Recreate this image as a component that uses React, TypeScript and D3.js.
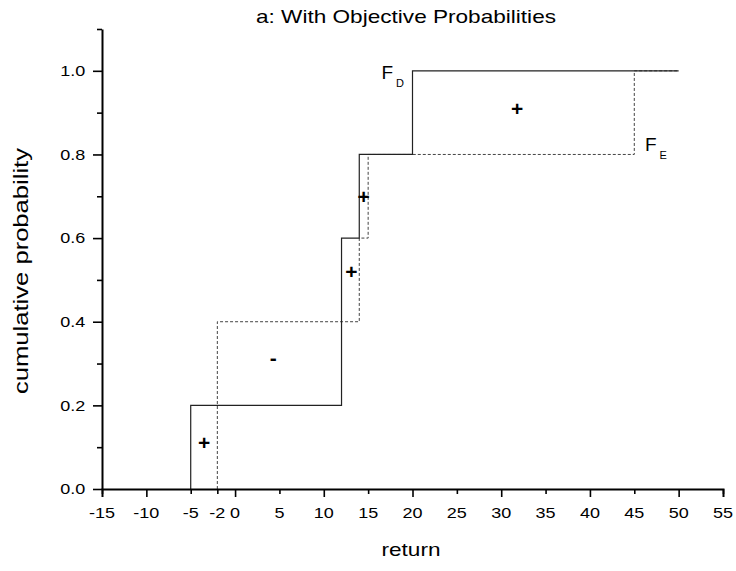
import React, { useEffect, useRef } from "react";
import * as d3 from "d3";

// step points of the two cumulative distributions
const returnsD = [-5, -5, 12, 14, 20, 50];
const cumProbD = [0, 0.2, 0.6, 0.8, 1.0, 1.0];
const returnsE = [-2, -2, 14, 15, 45, 50];
const cumProbE = [0, 0.4, 0.6, 0.8, 1.0, 1.0];

// axis ticks
const xMajorTicks = [-10, 0, 10, 20, 30, 40, 50];
const xMinorTicks = [-15, -5, -2, 5, 15, 25, 35, 45, 55];
const xTickLabels = [-15, -10, -5, -2, 0, 5, 10, 15, 20, 25, 30, 35, 40, 45, 50, 55];
const yMajorTicks = [0, 0.2, 0.4, 0.6, 0.8, 1.0];
const yMinorTicks = [0.1, 0.3, 0.5, 0.7, 0.9, 1.1];

// +/- annotations between the curves
const signX = [-3.5, 4.3, 13.1, 14.5, 31.8];
const signY = [0.11, 0.315, 0.52, 0.7, 0.91];
const signText = ["+", "-", "+", "+", "+"];

const App = () => {
  const svgRef = useRef<SVGSVGElement>(null);

  useEffect(() => {
    const width = 736;
    const height = 571;
    const marginLeft = 102;
    const marginRight = 13;
    const marginTop = 29;
    const marginBottom = 82;
    const font = "'Liberation Sans', Arial, sans-serif";

    const x = d3
      .scaleLinear()
      .domain([-15, 55])
      .range([marginLeft, width - marginRight]);
    const y = d3
      .scaleLinear()
      .domain([0, 1.1])
      .range([height - marginBottom, marginTop]);

    const svg = d3
      .select(svgRef.current)
      .attr("width", width)
      .attr("height", height)
      .attr("viewBox", [0, 0, width, height].join(" "))
      .style("position", "absolute")
      .style("left", "0px")
      .style("top", "0px")
      .style("background", "#fff");

    svg.selectAll("*").remove();

    const line = d3
      .line<[number, number]>()
      .x((d) => x(d[0]))
      .y((d) => y(d[1]))
      .curve(d3.curveStepAfter);

    // F_E dashed
    svg
      .append("path")
      .datum(returnsE.map((r, i) => [r, cumProbE[i]] as [number, number]))
      .attr("d", line)
      .attr("fill", "none")
      .attr("stroke", "#444")
      .attr("stroke-width", 1)
      .attr("stroke-dasharray", "3,2");

    // F_D solid
    svg
      .append("path")
      .datum(returnsD.map((r, i) => [r, cumProbD[i]] as [number, number]))
      .attr("d", line)
      .attr("fill", "none")
      .attr("stroke", "#222")
      .attr("stroke-width", 1.2);

    // x axis
    const gx = svg
      .append("g")
      .attr("transform", `translate(0,${y(0)})`)
      .style("font-family", font);
    gx.call(
      d3.axisBottom(x).tickValues(xMajorTicks).tickSize(8).tickFormat(() => "")
    );
    gx.append("g").call(
      d3.axisBottom(x).tickValues(xMinorTicks).tickSize(5).tickFormat(() => "")
    );
    gx.selectAll("g g .domain").remove();
    gx.selectAll(".domain").attr("stroke-width", 2).attr("stroke", "#000");
    gx.selectAll(".tick line").attr("stroke-width", 1.6).attr("stroke", "#000");
    gx.selectAll("text.xlab")
      .data(xTickLabels)
      .join("text")
      .attr("class", "xlab")
      .attr("transform", (d) => `translate(${x(d)},29) scale(1.2,1)`)
      .attr("text-anchor", "middle")
      .attr("font-size", 15)
      .attr("fill", "#000")
      .text((d) => String(d));

    // y axis
    const gy = svg
      .append("g")
      .attr("transform", `translate(${x(-15)},0)`)
      .style("font-family", font);
    gy.call(
      d3
        .axisLeft(y)
        .tickValues(yMajorTicks)
        .tickSize(9)
        .tickPadding(5)
        .tickSizeOuter(0)
        .tickFormat(d3.format(".1f"))
    );
    gy.append("g").call(
      d3.axisLeft(y).tickValues(yMinorTicks).tickSize(5).tickFormat(() => "")
    );
    gy.selectAll("g g .domain").remove();
    gy.selectAll(".domain").attr("stroke-width", 2).attr("stroke", "#000");
    gy.selectAll(".tick line").attr("stroke-width", 1.6).attr("stroke", "#000");
    gy.selectAll(".tick text")
      .attr("font-size", 15)
      .attr("fill", "#000")
      .attr("transform", "scale(1.2,1)");

    // signs
    svg
      .append("g")
      .selectAll("text")
      .data(signText)
      .join("text")
      .attr("x", (_, i) => x(signX[i]))
      .attr("y", (_, i) => y(signY[i]))
      .attr("dy", "0.35em")
      .attr("text-anchor", "middle")
      .attr("font-family", font)
      .attr("font-size", 21)
      .attr("font-weight", "bold")
      .attr("fill", "#000")
      .text((d) => d);

    // curve labels
    const labels = [
      { name: "F", sub: "D", x: 16.5, y: 1.0, dy: 8 },
      { name: "F", sub: "E", x: 46.2, y: 0.8, dy: -3 },
    ];
    const lab = svg
      .append("g")
      .selectAll("text")
      .data(labels)
      .join("text")
      .attr("x", (d) => x(d.x))
      .attr("y", (d) => y(d.y) + d.dy)
      .attr("font-family", font)
      .attr("font-size", 19)
      .attr("fill", "#000");
    lab.append("tspan").text((d) => d.name);
    lab
      .append("tspan")
      .attr("font-size", 11)
      .attr("dx", 3)
      .attr("dy", 8)
      .text((d) => d.sub);

    // title and axis titles
    svg
      .append("text")
      .attr("x", 406)
      .attr("y", 23)
      .attr("text-anchor", "middle")
      .attr("font-family", font)
      .attr("font-size", 19)
      .attr("textLength", 300)
      .attr("lengthAdjust", "spacingAndGlyphs")
      .attr("fill", "#000")
      .text("a: With Objective Probabilities");

    svg
      .append("text")
      .attr("x", 411)
      .attr("y", 556)
      .attr("text-anchor", "middle")
      .attr("font-family", font)
      .attr("font-size", 19)
      .attr("textLength", 59)
      .attr("lengthAdjust", "spacingAndGlyphs")
      .attr("fill", "#000")
      .text("return");

    svg
      .append("text")
      .attr("transform", `translate(28,271) rotate(-90)`)
      .attr("text-anchor", "middle")
      .attr("font-family", font)
      .attr("font-size", 20)
      .attr("textLength", 246)
      .attr("lengthAdjust", "spacingAndGlyphs")
      .attr("fill", "#000")
      .text("cumulative probability");
  }, []);

  return <svg ref={svgRef} />;
};

export default App;
